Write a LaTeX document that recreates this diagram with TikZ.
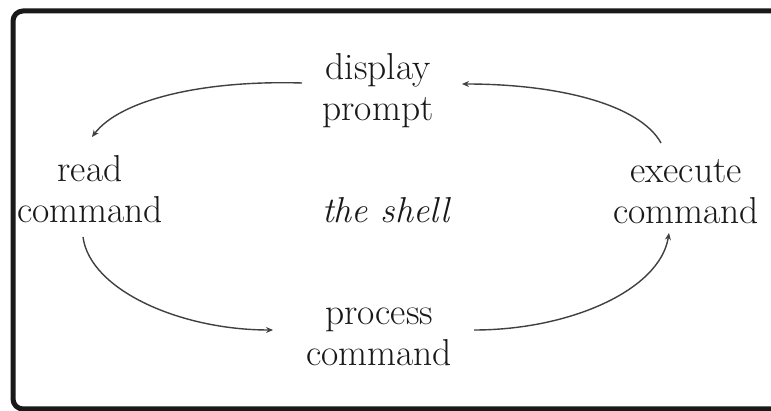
\documentclass[tikz,border=0pt]{standalone}
\usepackage{fontspec}
\usetikzlibrary{calc,arrows.meta}
\begin{document}
\begin{tikzpicture}[x=1pt,y=-1pt,
  lbl/.style={align=center,font={\fontsize{37.5}{41}\selectfont},inner sep=0pt,text=black!90},
  arr/.style={-{Stealth[length=7pt,width=6pt]},line width=1.4pt,draw=black!75},
  frame/.style={line width=5pt,rounded corners=10pt,draw=black!90}]
\useasboundingbox (0,0) rectangle (771,411);
\fill[white] (0,0) rectangle (771,411);
\begin{scope}
\clip (0,0) rectangle (771,411);
\draw[frame] (13,11) rectangle (800,409);
\end{scope}
\node[lbl] (disp) at (378,91) {display\\prompt};
\node[lbl] (read) at (90,189) {read\\command};
\node[lbl] (exec) at (686,192) {execute\\command};
\node[lbl] (proc) at (379,337) {process\\command};
\node[lbl,font={\fontsize{36}{41}\selectfont\itshape}] (shell) at (386,210) {the shell};
\draw[arr] ($(disp)+(-76,-8)$) .. controls +(-100,-3) and +(28,-37) .. ($(read)+(2,-52)$);
\draw[arr] ($(exec)+(-25,-49)$) .. controls +(-21,-38) and +(98,0) .. ($(disp)+(84,-7)$);
\draw[arr] ($(read)+(-7,48)$) .. controls +(7,53) and +(-93,0) .. ($(proc)+(-106,-7)$);
\draw[arr] ($(proc)+(95,-7)$) .. controls +(96,0) and +(-9,57) .. ($(exec)+(-17,41)$);
\end{tikzpicture}
\end{document}
